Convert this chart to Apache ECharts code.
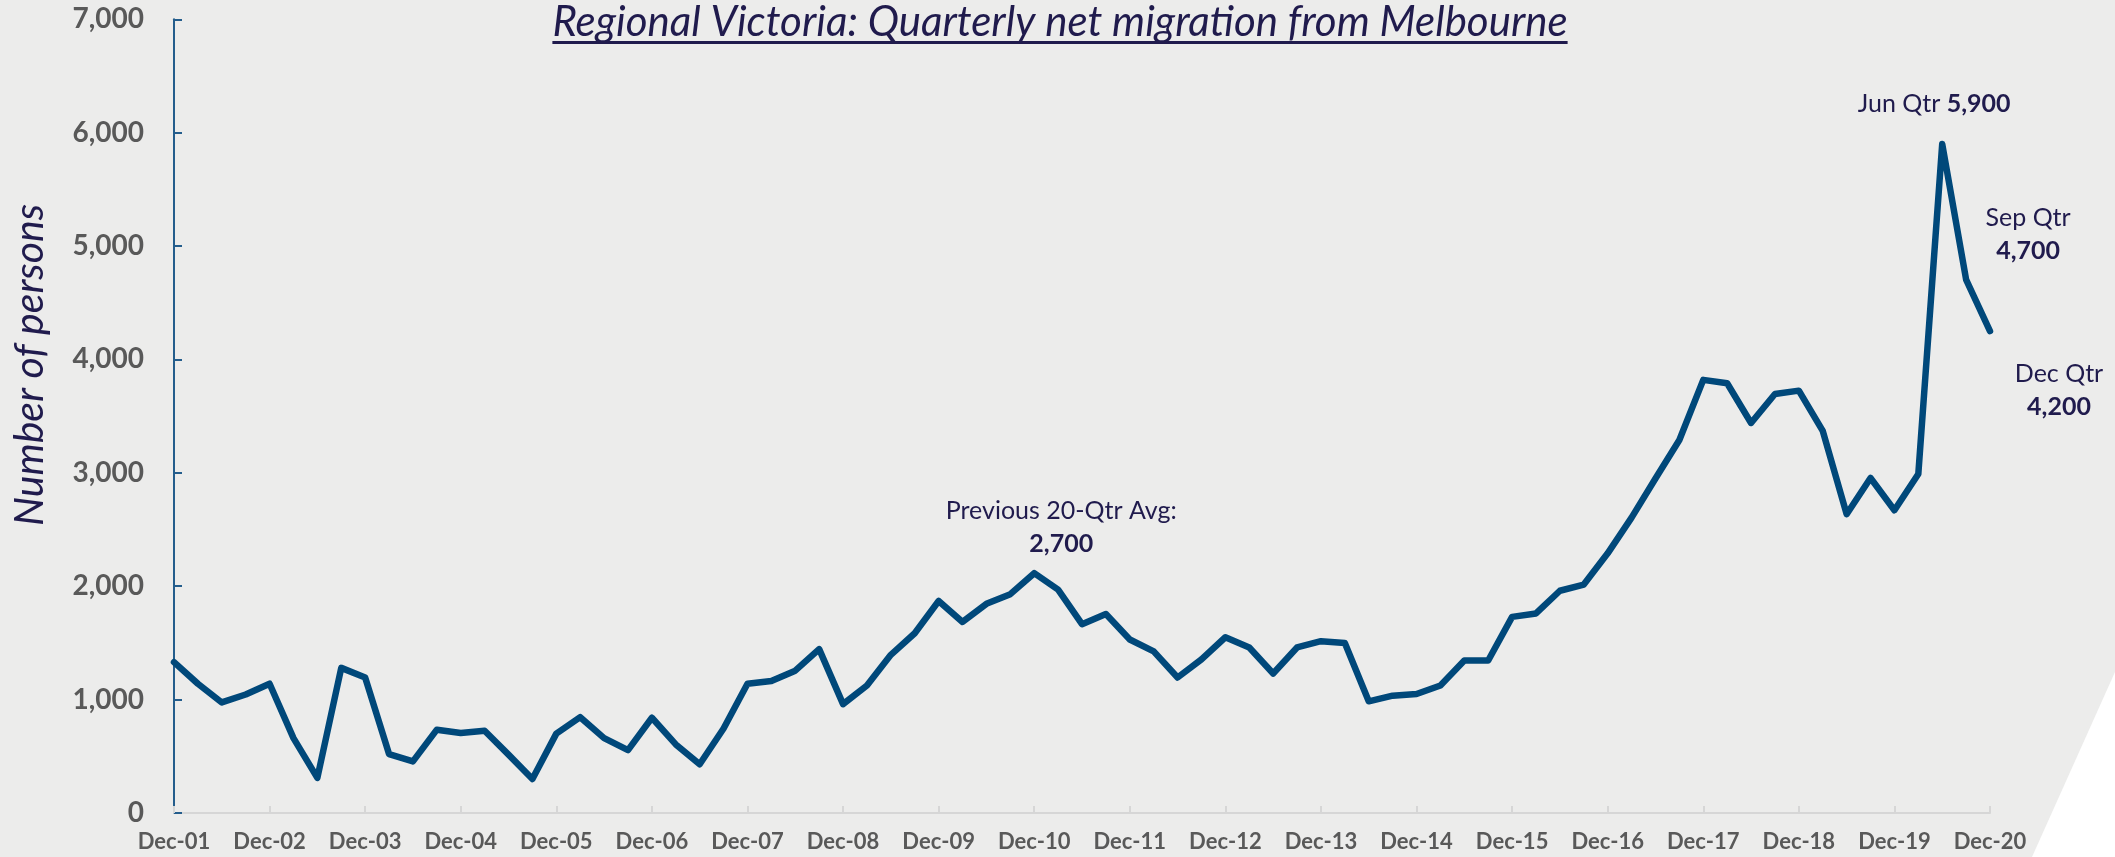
<!DOCTYPE html>
<html>
<head>
<meta charset="utf-8">
<script src="https://cdn.jsdelivr.net/npm/echarts@6/dist/echarts.min.js"></script>
<style>
html,body{margin:0;padding:0;background:#ececeb;}
#c{width:2115px;height:857px;}
</style>
</head>
<body>
<div id="c"></div>
<script>
// ---- Data ----
const years = ['01','02','03','04','05','06','07','08','09','10','11','12','13','14','15','16','17','18','19','20'];
const quarterNames = ['Mar','Jun','Sep','Dec'];
const categories = ['Dec-01'];
for (let i = 1; i < years.length; i++) {
  for (const q of quarterNames) categories.push(q + '-' + years[i]);
}
const netMigration = [
  1330,
  1140, 975, 1045, 1140,
  660, 310, 1280, 1195,
  520, 455, 735, 705,
  725, 515, 300, 700,
  845, 660, 555, 840,
  605, 430, 745, 1140,
  1165, 1255, 1445, 960,
  1125, 1395, 1585, 1870,
  1685, 1845, 1930, 2115,
  1970, 1665, 1755, 1530,
  1425, 1195, 1355, 1550,
  1460, 1230, 1460, 1515,
  1500, 985, 1035, 1050,
  1125, 1345, 1345, 1730,
  1760, 1960, 2015, 2290,
  2605, 2950, 3290, 3820,
  3790, 3440, 3695, 3725,
  3370, 2635, 2955, 2670,
  2990, 5900, 4705, 4250
];
const yTicks = [0, 1000, 2000, 3000, 4000, 5000, 6000, 7000];
const titleText = 'Regional Victoria: Quarterly net migration from Melbourne';
const yAxisTitle = 'Number of persons';
const annotations = [
  { cat: 'Dec-10', lines: ['Previous 20-Qtr Avg:', '2,700'], offset: [27, -46] },
  { cat: 'Jun-20', inline: ['Jun Qtr ', '5,900'], offset: [-8, -40] },
  { cat: 'Sep-20', lines: ['Sep Qtr', '4,700'], offset: [62, -45] },
  { cat: 'Dec-20', lines: ['Dec Qtr', '4,200'], offset: [69, 59] }
];

// ---- Styles ----
const FONT = 'Lato';
const NAVY = '#201b4d';
const GREY = '#595959';
const LINE = '#00487a';

function measure(text, font) {
  const ctx = document.createElement('canvas').getContext('2d');
  ctx.font = font;
  return ctx.measureText(text).width;
}
const titleSize = 42;
const titleW = measure(titleText, 'italic ' + titleSize + 'px ' + FONT);
const titleCx = 1060;

const markData = annotations.map(a => {
  const idx = categories.indexOf(a.cat);
  const fmt = a.lines ? '{n|' + a.lines[0] + '}\n{b|' + a.lines[1] + '}' : '{n|' + a.inline[0] + '}{b|' + a.inline[1] + '}';
  return {
    coord: [a.cat, netMigration[idx]],
    label: { show: true, formatter: fmt, offset: a.offset }
  };
});

const chart = echarts.init(document.getElementById('c'), null, { renderer: 'canvas' });
chart.setOption({
  backgroundColor: '#ececeb',
  animation: false,
  grid: { left: 174, right: 125, top: 19.3, bottom: 44, containLabel: false },
  xAxis: {
    type: 'category',
    data: categories,
    boundaryGap: false,
    axisLine: { lineStyle: { color: '#d6d6d6', width: 2 } },
    axisTick: { show: true, inside: true, length: 7, interval: 3, lineStyle: { color: '#d6d6d6', width: 2 } },
    axisLabel: { interval: 3, margin: 18, color: GREY, fontFamily: FONT, fontWeight: 'bold', fontSize: 22 },
    splitLine: { show: false }
  },
  yAxis: {
    type: 'value',
    min: yTicks[0],
    max: yTicks[yTicks.length - 1],
    interval: yTicks[1] - yTicks[0],
    axisLine: { show: true, lineStyle: { color: '#245d8c', width: 2 } },
    axisTick: { show: true, inside: true, length: 8, lineStyle: { color: '#245d8c', width: 2 } },
    axisLabel: {
      margin: 30, color: GREY, fontFamily: FONT, fontWeight: 'bold', fontSize: 28,
      formatter: v => v.toLocaleString('en-US')
    },
    splitLine: { show: false }
  },
  series: [{
    type: 'line',
    data: netMigration,
    showSymbol: false,
    symbol: 'none',
    lineStyle: { color: LINE, width: 6.5, join: 'round', cap: 'round' },
    itemStyle: { color: LINE },
    markPoint: {
      symbol: 'circle',
      symbolSize: 1,
      itemStyle: { color: 'rgba(0,0,0,0)' },
      label: {
        position: 'inside',
        align: 'center',
        verticalAlign: 'middle',
        rich: {
          n: { fontFamily: FONT, fontSize: 25, color: NAVY, lineHeight: 33 },
          b: { fontFamily: FONT, fontSize: 25, fontWeight: 'bold', color: NAVY, lineHeight: 33 }
        }
      },
      data: markData
    }
  }],
  graphic: [
    {
      type: 'polygon',
      shape: { points: [[2115, 672], [2115, 857], [2032, 857]] },
      style: { fill: '#ffffff' },
      silent: true
    },
    {
      type: 'text',
      x: titleCx, y: 22,
      style: {
        text: titleText, fill: NAVY, font: 'italic ' + titleSize + 'px ' + FONT,
        align: 'center', verticalAlign: 'middle'
      }
    },
    {
      type: 'rect',
      shape: { x: titleCx - titleW / 2, y: 41, width: titleW, height: 3 },
      style: { fill: NAVY }
    },
    {
      type: 'text',
      x: 30, y: 365,
      rotation: Math.PI / 2,
      style: {
        text: yAxisTitle, fill: NAVY, font: 'italic 41px ' + FONT,
        align: 'center', verticalAlign: 'middle'
      }
    }
  ]
});
</script>
</body>
</html>
